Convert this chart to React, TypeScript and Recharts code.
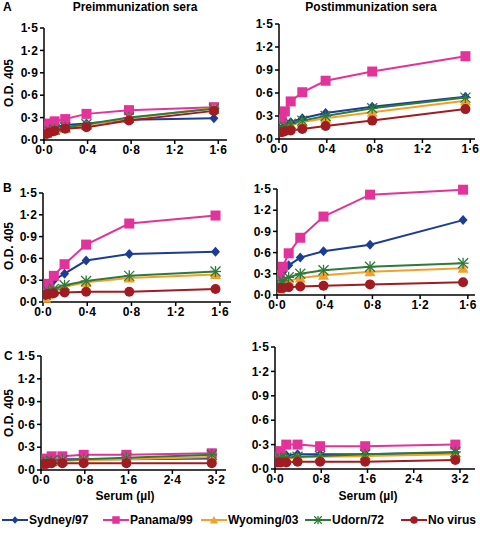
import React from "react";
import { LineChart, Line, XAxis, YAxis } from "recharts";

// serum volumes (µl)
const xAB = [0.024, 0.049, 0.098, 0.195, 0.39, 0.78, 1.56];
const xC = [0.049, 0.098, 0.195, 0.39, 0.78, 1.56, 3.12];

const ticksAB = [0, 0.4, 0.8, 1.2, 1.6];
const ticksC = [0, 0.8, 1.6, 2.4, 3.2];
const ticksY = [0, 0.3, 0.6, 0.9, 1.2, 1.5];

// A - preimmunization
const aPreSydney = [0.12, 0.14, 0.17, 0.2, 0.22, 0.27, 0.29];
const aPrePanama = [0.18, 0.22, 0.25, 0.28, 0.35, 0.4, 0.44];
const aPreWyoming = [0.09, 0.11, 0.13, 0.16, 0.2, 0.29, 0.43];
const aPreUdorn = [0.1, 0.12, 0.14, 0.17, 0.21, 0.3, 0.42];
const aPreNoVirus = [0.08, 0.1, 0.12, 0.15, 0.17, 0.26, 0.39];
// A - postimmunization
const aPostSydney = [0.14, 0.18, 0.22, 0.27, 0.34, 0.42, 0.55];
const aPostPanama = [0.26, 0.36, 0.49, 0.61, 0.76, 0.88, 1.08];
const aPostWyoming = [0.11, 0.14, 0.18, 0.22, 0.27, 0.35, 0.5];
const aPostUdorn = [0.13, 0.16, 0.2, 0.24, 0.3, 0.4, 0.54];
const aPostNoVirus = [0.09, 0.1, 0.11, 0.13, 0.17, 0.24, 0.39];
// B - preimmunization
const bPreSydney = [0.14, 0.2, 0.3, 0.39, 0.57, 0.66, 0.69];
const bPrePanama = [0.15, 0.25, 0.36, 0.52, 0.79, 1.08, 1.19];
const bPreWyoming = [0.05, 0.1, 0.15, 0.21, 0.27, 0.33, 0.38];
const bPreUdorn = [0.1, 0.14, 0.18, 0.23, 0.29, 0.36, 0.42];
const bPreNoVirus = [0.1, 0.11, 0.12, 0.13, 0.14, 0.14, 0.18];
// B - postimmunization
const bPostSydney = [0.25, 0.33, 0.42, 0.53, 0.62, 0.71, 1.06];
const bPostPanama = [0.28, 0.4, 0.59, 0.81, 1.11, 1.42, 1.49];
const bPostWyoming = [0.08, 0.13, 0.2, 0.24, 0.28, 0.33, 0.38];
const bPostUdorn = [0.15, 0.2, 0.25, 0.3, 0.35, 0.4, 0.45];
const bPostNoVirus = [0.1, 0.1, 0.11, 0.12, 0.13, 0.15, 0.18];
// C - preimmunization
const cPreSydney = [0.12, 0.13, 0.13, 0.14, 0.14, 0.14, 0.15];
const cPrePanama = [0.12, 0.15, 0.18, 0.18, 0.2, 0.2, 0.22];
const cPreWyoming = [0.09, 0.1, 0.11, 0.12, 0.13, 0.14, 0.17];
const cPreUdorn = [0.1, 0.11, 0.12, 0.13, 0.14, 0.16, 0.2];
const cPreNoVirus = [0.08, 0.08, 0.09, 0.09, 0.09, 0.09, 0.09];
// C - postimmunization
const cPostSydney = [0.16, 0.17, 0.17, 0.18, 0.18, 0.18, 0.2];
const cPostPanama = [0.15, 0.22, 0.3, 0.3, 0.28, 0.28, 0.3];
const cPostWyoming = [0.1, 0.12, 0.13, 0.14, 0.15, 0.16, 0.18];
const cPostUdorn = [0.12, 0.13, 0.14, 0.15, 0.16, 0.18, 0.21];
const cPostNoVirus = [0.08, 0.08, 0.08, 0.09, 0.09, 0.09, 0.11];

const seriesNames = ["Sydney/97", "Panama/99", "Wyoming/03", "Udorn/72", "No virus"];
const seriesKeys = ["sydney", "panama", "wyoming", "udorn", "noVirus"];
const seriesColors = ["#1d3c94", "#e2339b", "#f3a02a", "#2d7a3b", "#a11b22"];
const seriesShapes = ["diamond", "square", "triangle", "star", "circle"];

const FONT = "'Liberation Sans', Arial, sans-serif";
const fmt = (v: number) => v.toFixed(1).replace(".", "\u00b7");

function build(x: number[], s: number[][]) {
  return x.map((xv, i) => ({
    x: xv,
    sydney: s[0][i],
    panama: s[1][i],
    wyoming: s[2][i],
    udorn: s[3][i],
    noVirus: s[4][i],
  }));
}

function Marker({ shape, cx, cy, color, k }: any) {
  const s = k;
  if (shape === "diamond")
    return <polygon points={`${cx},${cy - 5 * s} ${cx + 4.5 * s},${cy} ${cx},${cy + 5 * s} ${cx - 4.5 * s},${cy}`} fill={color} />;
  if (shape === "square")
    return <rect x={cx - 5 * s} y={cy - 5 * s} width={10 * s} height={10 * s} fill={color} />;
  if (shape === "triangle")
    return <polygon points={`${cx},${cy - 5.5 * s} ${cx + 5.5 * s},${cy + 4.5 * s} ${cx - 5.5 * s},${cy + 4.5 * s}`} fill={color} />;
  if (shape === "star")
    return (
      <g stroke={color} strokeWidth={1.3}>
        <line x1={cx - 5 * s} y1={cy - 5 * s} x2={cx + 5 * s} y2={cy + 5 * s} />
        <line x1={cx - 5 * s} y1={cy + 5 * s} x2={cx + 5 * s} y2={cy - 5 * s} />
        <line x1={cx} y1={cy - 5.5 * s} x2={cx} y2={cy + 5.5 * s} />
        <line x1={cx - 5.5 * s} y1={cy} x2={cx + 5.5 * s} y2={cy} />
      </g>
    );
  return <circle cx={cx} cy={cy} r={5 * s} fill={color} />;
}

const dotFor = (i: number) => (p: any) => (
  <g key={`d-${i}-${p.index}`}>
    <Marker shape={seriesShapes[i]} cx={p.cx} cy={p.cy} color={seriesColors[i]} k={1} />
  </g>
);

const tickStyle = { fontSize: 12, fontWeight: 700, fill: "#000", fontFamily: FONT };

function Panel({ col, x0, x1, y0, y1, xMax, xTicks, data }: any) {
  const top = y0 - 10;
  const xAxisH = 30;
  const h = y1 - top + xAxisH;
  return (
    <div style={{ position: "absolute", left: col, top }}>
      <LineChart
        width={240}
        height={h}
        data={data}
        margin={{ top: 10, right: col + 240 - x1, bottom: 0, left: 0 }}
      >
        <XAxis
          type="number"
          dataKey="x"
          domain={[0, xMax]}
          ticks={xTicks}
          tickFormatter={fmt}
          height={xAxisH}
          tick={tickStyle}
          tickSize={4}
          tickMargin={1}
          axisLine={{ stroke: "#000", strokeWidth: 1.5 }}
          tickLine={{ stroke: "#000", strokeWidth: 1.5 }}
          allowDataOverflow
        />
        <YAxis
          type="number"
          domain={[0, 1.5]}
          ticks={ticksY}
          tickFormatter={fmt}
          width={x0 - col}
          tick={tickStyle}
          tickSize={4}
          tickMargin={2}
          axisLine={{ stroke: "#000", strokeWidth: 1.5 }}
          tickLine={{ stroke: "#000", strokeWidth: 1.5 }}
        />
        {seriesKeys.map((k, i) => (
          <Line
            key={k}
            type="linear"
            dataKey={k}
            stroke={seriesColors[i]}
            strokeWidth={2}
            dot={dotFor(i)}
            activeDot={false}
            isAnimationActive={false}
          />
        ))}
      </LineChart>
    </div>
  );
}

const txt = (extra: any) => ({
  position: "absolute" as const,
  fontFamily: FONT,
  fontWeight: 700,
  fontSize: 12,
  color: "#000",
  whiteSpace: "nowrap" as const,
  lineHeight: "14px",
  ...extra,
});

function YLabel({ cy }: { cy: number }) {
  return (
    <div style={txt({ left: 9, top: cy, transform: "translate(-50%, -50%) rotate(-90deg)" })}>O.D. 405</div>
  );
}

const legendLeft = [2, 103, 201, 305, 401];

export default function App() {
  return (
    <div style={{ position: "fixed", left: 0, top: 0, width: 480, height: 535, background: "#fff", overflow: "hidden" }}>
      <div style={txt({ left: 135, top: 0, transform: "translateX(-50%)" })}>Preimmunization sera</div>
      <div style={txt({ left: 371, top: 0, transform: "translateX(-50%)" })}>Postimmunization sera</div>
      <div style={txt({ left: 3, top: 0 })}>A</div>
      <div style={txt({ left: 3, top: 181 })}>B</div>
      <div style={txt({ left: 4, top: 349 })}>C</div>
      <YLabel cy={83} />
      <YLabel cy={246} />
      <YLabel cy={413} />

      <Panel col={0} x0={44} x1={227} y0={28} y1={140} xMax={1.68} xTicks={ticksAB}
        data={build(xAB, [aPreSydney, aPrePanama, aPreWyoming, aPreUdorn, aPreNoVirus])} />
      <Panel col={240} x0={279} x1={475} y0={24} y1={139} xMax={1.64} xTicks={ticksAB}
        data={build(xAB, [aPostSydney, aPostPanama, aPostWyoming, aPostUdorn, aPostNoVirus])} />
      <Panel col={0} x0={43} x1={231} y0={193} y1={302} xMax={1.7} xTicks={ticksAB}
        data={build(xAB, [bPreSydney, bPrePanama, bPreWyoming, bPreUdorn, bPreNoVirus])} />
      <Panel col={240} x0={277} x1={475} y0={189} y1={295} xMax={1.66} xTicks={ticksAB}
        data={build(xAB, [bPostSydney, bPostPanama, bPostWyoming, bPostUdorn, bPostNoVirus])} />
      <Panel col={0} x0={41} x1={226} y0={356} y1={470} xMax={3.38} xTicks={ticksC}
        data={build(xC, [cPreSydney, cPrePanama, cPreWyoming, cPreUdorn, cPreNoVirus])} />
      <Panel col={240} x0={275} x1={475} y0={347} y1={469} xMax={3.46} xTicks={ticksC}
        data={build(xC, [cPostSydney, cPostPanama, cPostWyoming, cPostUdorn, cPostNoVirus])} />

      <div style={txt({ left: 125, top: 489, transform: "translateX(-50%)" })}>Serum (µl)</div>
      <div style={txt({ left: 368, top: 489, transform: "translateX(-50%)" })}>Serum (µl)</div>

      {seriesNames.map((n, i) => (
        <div key={n} style={txt({ left: legendLeft[i], top: 513, display: "flex", alignItems: "center" })}>
          <svg width={26} height={12} style={{ display: "block" }}>
            <line x1={0} y1={6} x2={26} y2={6} stroke={seriesColors[i]} strokeWidth={2} />
            <Marker shape={seriesShapes[i]} cx={13} cy={6} color={seriesColors[i]} k={0.75} />
          </svg>
          <span style={{ marginLeft: 1 }}>{n}</span>
        </div>
      ))}
    </div>
  );
}
